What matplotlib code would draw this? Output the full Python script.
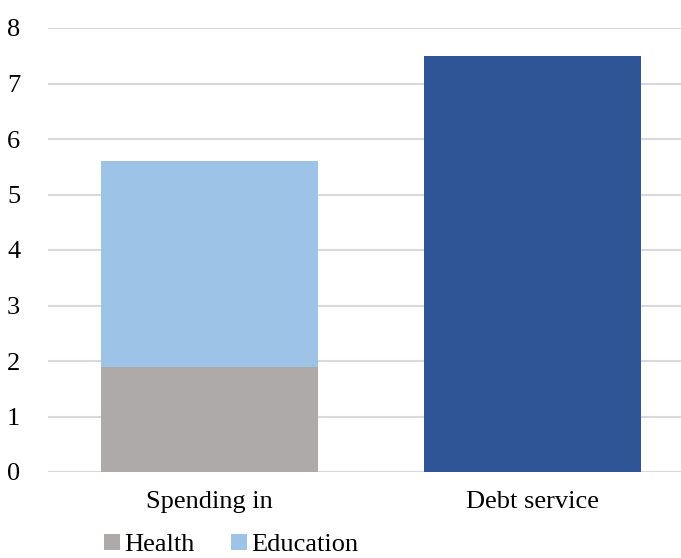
import numpy as np
import matplotlib.pyplot as plt

categories = ['Spending in', 'Debt service']
health = [1.9, 0]
education = [3.7, 0]
debt = [0, 7.5]
yticks = [0, 1, 2, 3, 4, 5, 6, 7, 8]

plt.rcParams['font.family'] = ['Liberation Serif', 'DejaVu Serif']

fig = plt.figure(figsize=(6.81, 5.58), dpi=100)
ax = fig.add_axes([48 / 681, 1 - 472 / 558, (681 - 48) / 681, 444 / 558])

x = np.arange(len(categories))
w = 0.67
ax.bar(x[0], health[0], w, color='#aeaaaa', label='Health', zorder=3)
ax.bar(x[0], education[0], w, bottom=health[0], color='#9dc3e6', label='Education', zorder=3)
ax.bar(x[1], debt[1], w, color='#2f5597', zorder=3)

ax.set_xlim(-0.5, 1.46)
ax.set_ylim(0, 8)
ax.set_yticks(yticks)
ax.set_xticks(x)
ax.set_xticklabels(categories)
ax.grid(axis='y', color='#d9d9d9', lw=1.5, zorder=0)
ax.set_axisbelow(True)
for s in ax.spines.values():
    s.set_visible(False)
ax.tick_params(length=0, labelsize=19, colors='black')
ax.tick_params(axis='y', pad=20)
ax.tick_params(axis='x', pad=14)

fig.legend(loc='center left', bbox_to_anchor=(104 / 681, 1 - 545 / 558), ncol=2, frameon=False,
           fontsize=19, handlelength=0.6, handleheight=0.6, handletextpad=0.15, columnspacing=1.4,
           borderpad=0, borderaxespad=0)

fig.savefig('out.png', dpi=100)
